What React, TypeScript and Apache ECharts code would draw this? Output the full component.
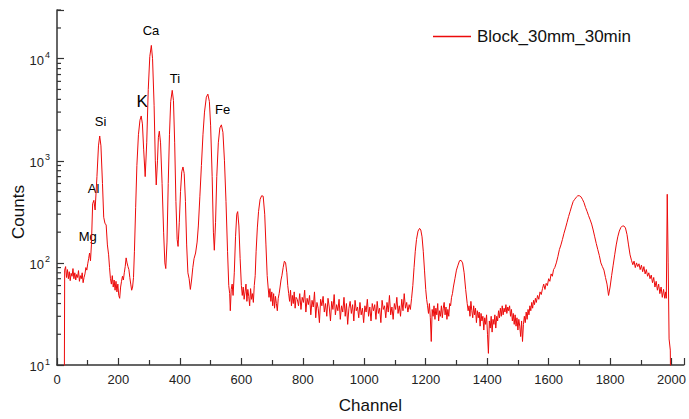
import React, { useEffect, useRef } from "react";
import * as echarts from "echarts";

const seriesName = "Block_30mm_30min";

// [channel, counts]
const spectrumLow: number[][] = [
  [23, 1], [25, 85], [28, 92], [31, 72], [34, 86], [37, 70], [40, 82], [43, 67], [46, 79], [49, 74],
  [52, 88], [55, 70], [58, 80], [61, 68], [64, 77], [67, 72], [70, 84], [73, 66], [76, 75], [79, 70],
  [82, 80], [85, 64], [88, 72], [91, 78], [94, 90], [97, 85], [100, 98], [103, 110], [106, 125], [109, 105],
  [112, 150], [116, 380], [120, 410], [124, 330], [130, 700], [135, 1400], [139, 1750], [143, 1400], [148, 600], [152, 280],
  [156, 245], [160, 235], [164, 150], [168, 120], [171, 90], [174, 70], [177, 62], [180, 75], [183, 58], [186, 68],
  [189, 54], [192, 66], [195, 52], [198, 62], [201, 48], [204, 45], [207, 58], [210, 66], [213, 74], [216, 68],
  [219, 80], [222, 92], [225, 112], [228, 100], [231, 92], [234, 86], [237, 72], [240, 62], [243, 54], [246, 58],
  [249, 72], [252, 130], [256, 350], [260, 900], [265, 1800], [270, 2500], [274, 2750], [278, 2300], [282, 1300], [287, 700],
  [292, 1500], [297, 5000], [302, 10500], [307, 13500], [311, 10000], [316, 3500], [320, 1000], [323, 580], [327, 1000], [330, 1700],
  [333, 1950], [337, 1500], [342, 600], [347, 200], [351, 100], [354, 88], [358, 160], [362, 600], [366, 1800], [370, 3800],
  [375, 4900], [379, 3900], [383, 1500], [387, 400], [391, 170], [394, 145], [398, 250], [402, 500], [406, 780], [410, 870],
  [414, 750], [418, 400], [422, 150], [426, 80], [430, 70], [434, 55], [438, 68], [442, 90], [446, 110], [451, 125],
  [456, 160], [460, 230], [465, 450], [470, 900], [475, 1800], [480, 3000], [486, 4200], [491, 4500], [496, 3800], [500, 2200],
  [505, 700], [509, 200], [512, 133], [516, 250], [520, 700], [525, 1500], [530, 2100], [535, 2250], [540, 1900], [545, 1000],
  [550, 400], [555, 130], [559, 60], [562, 50], [564, 34], [567, 55], [570, 62], [573, 48], [577, 80], [581, 180],
  [585, 300], [588, 318], [592, 230], [596, 110], [600, 60], [603, 48], [606, 58], [609, 44], [612, 52], [615, 62],
  [618, 42], [621, 55], [624, 47], [627, 38], [630, 56], [633, 44], [636, 50], [639, 41], [642, 60], [645, 75],
  [648, 130], [652, 220], [656, 320], [661, 420], [666, 455], [671, 450], [676, 300], [680, 150], [684, 75], [687, 58],
  [690, 46], [693, 56], [696, 42], [699, 52], [702, 38], [705, 50], [708, 36], [711, 47], [714, 40], [717, 34],
  [720, 45], [723, 50], [726, 58], [729, 68], [732, 75], [736, 90], [740, 104], [744, 100], [748, 80], [751, 60],
  [754, 50], [757, 42], [760, 54], [763, 38], [766, 48], [769, 40], [772, 52], [775, 36], [778, 46],
];

const spectrumMid: number[][] = [
  [782, 44], [786, 38], [790, 50], [794, 35], [798, 46], [802, 41], [806, 54], [810, 33], [814, 45], [818, 39],
  [822, 48], [826, 31], [830, 43], [834, 37], [838, 52], [842, 29], [846, 41], [850, 36], [854, 26], [858, 44],
  [862, 38], [866, 47], [870, 33], [874, 40], [878, 30], [882, 45], [886, 37], [890, 27], [894, 42], [898, 35],
  [902, 49], [906, 31], [910, 39], [914, 34], [918, 44], [922, 28], [926, 38], [930, 33], [934, 46], [938, 30],
  [942, 40], [946, 25], [950, 36], [954, 42], [958, 32], [962, 39], [966, 27], [970, 43], [974, 34], [978, 37],
  [982, 29], [986, 41], [990, 31], [994, 36], [998, 26], [1002, 38], [1006, 33], [1010, 44], [1014, 30], [1018, 37],
  [1022, 27], [1026, 40], [1030, 34], [1034, 39], [1038, 28], [1042, 42], [1046, 32], [1050, 36], [1054, 26], [1058, 43],
  [1062, 35], [1066, 38], [1070, 29], [1074, 41], [1078, 33], [1082, 48], [1086, 31], [1090, 37], [1094, 28], [1098, 40],
  [1102, 35], [1106, 46], [1110, 32], [1114, 38], [1118, 30], [1122, 44], [1126, 34], [1130, 50], [1134, 36], [1138, 41],
  [1142, 33], [1146, 39], [1150, 35], [1154, 45], [1158, 60], [1162, 90], [1166, 130], [1170, 170], [1175, 205], [1180, 218],
  [1184, 210], [1188, 180], [1192, 130], [1196, 85], [1200, 55], [1203, 44], [1206, 38], [1209, 32], [1212, 40], [1215, 29],
  [1218, 17], [1221, 35], [1224, 30], [1227, 38], [1230, 28], [1233, 36], [1236, 31], [1239, 40], [1242, 27], [1245, 34],
  [1248, 30], [1251, 38], [1254, 29], [1257, 36], [1260, 41], [1263, 31], [1266, 37], [1269, 28], [1272, 35], [1275, 30],
  [1278, 40], [1281, 38], [1284, 46], [1287, 50], [1290, 58], [1295, 70], [1300, 85], [1305, 95], [1310, 105], [1315, 106],
  [1320, 100], [1325, 80], [1330, 55], [1335, 40], [1338, 34], [1341, 38], [1344, 30], [1347, 42], [1350, 34], [1353, 29],
  [1356, 38], [1359, 31], [1362, 36], [1365, 26], [1368, 34], [1371, 29], [1374, 33], [1377, 24], [1380, 32], [1383, 27],
  [1386, 30], [1389, 22], [1392, 29], [1395, 25], [1398, 31], [1401, 20], [1404, 13], [1407, 27], [1410, 23], [1413, 30],
  [1416, 21], [1419, 28], [1422, 25], [1425, 31], [1428, 23], [1431, 30], [1434, 27], [1437, 34], [1440, 29], [1443, 36],
  [1446, 30], [1449, 38], [1452, 31], [1455, 36], [1458, 33], [1461, 39], [1464, 32], [1467, 37], [1470, 34], [1473, 38],
  [1476, 30], [1479, 35], [1482, 27], [1485, 32], [1488, 25], [1491, 31], [1494, 24], [1497, 29], [1500, 22], [1503, 28],
  [1506, 24], [1509, 19], [1512, 27], [1515, 17], [1518, 25], [1521, 30], [1524, 26], [1527, 33], [1530, 28], [1533, 35],
  [1536, 31], [1539, 38], [1542, 34], [1545, 41], [1548, 36], [1551, 43], [1554, 39], [1557, 45], [1560, 41],
];

const spectrumHigh: number[][] = [
  [1564, 48], [1568, 44], [1572, 52], [1576, 49], [1580, 56], [1584, 62], [1588, 55], [1592, 63], [1596, 60], [1600, 70],
  [1604, 66], [1608, 78], [1612, 74], [1616, 86], [1620, 90], [1625, 100], [1630, 115], [1635, 135], [1640, 150], [1645, 170],
  [1650, 195], [1655, 220], [1660, 250], [1665, 285], [1670, 320], [1675, 360], [1680, 400], [1685, 420], [1690, 440], [1695, 455],
  [1700, 455], [1705, 445], [1710, 420], [1715, 390], [1720, 350], [1725, 320], [1730, 290], [1735, 265], [1740, 240], [1745, 210],
  [1750, 180], [1755, 155], [1760, 135], [1765, 118], [1770, 100], [1775, 92], [1780, 85], [1785, 72], [1790, 62], [1795, 48],
  [1800, 58], [1805, 75], [1810, 95], [1815, 120], [1820, 150], [1825, 180], [1830, 205], [1835, 222], [1840, 230], [1845, 230],
  [1850, 220], [1855, 190], [1860, 150], [1865, 120], [1870, 105], [1874, 96], [1878, 104], [1882, 90], [1886, 100], [1890, 92],
  [1894, 98], [1898, 86], [1902, 95], [1906, 82], [1910, 92], [1914, 78], [1918, 86], [1922, 74], [1926, 80], [1930, 70],
  [1934, 76], [1938, 64], [1942, 72], [1946, 58], [1950, 66], [1954, 54], [1958, 62], [1962, 50], [1966, 58], [1970, 46],
  [1974, 55], [1978, 45], [1981, 52], [1983, 45], [1986, 470], [1989, 100], [1992, 18], [1996, 14], [1999, 1],
];

const peakNames = ["Ca", "Ti", "K", "Si", "Fe", "Al", "Mg"];
const peakLabelChannels = [306, 384, 277, 142, 539, 119, 100];
const peakLabelCounts = [19000, 6460, 3770, 2400, 3160, 534, 181];

const xTickValues = [0, 200, 400, 600, 800, 1000, 1200, 1400, 1600, 1800, 2000];
const yDecades = [10, 100, 1000, 10000];

const FONT = "'Liberation Sans', Arial, sans-serif";
const LINE_COLOR = "#ec0a0a";

export default function App() {
  const ref = useRef<HTMLDivElement>(null);
  useEffect(() => {
    if (!ref.current) return;
    const chart = echarts.init(ref.current, undefined, { renderer: "svg" });
    const spectrum = [...spectrumLow, ...spectrumMid, ...spectrumHigh];
    const minorY: number[][] = [];
    yDecades.forEach((d) => {
      for (let m = 2; m <= 9; m++) {
        if (d * m <= 30000) minorY.push([0, d * m]);
      }
    });
    const labels = peakNames.map((n, i) => ({
      name: n,
      value: [peakLabelChannels[i], peakLabelCounts[i]],
      label: n === "K" ? { fontSize: 17 } : undefined,
    }));
    chart.setOption({
      animation: false,
      textStyle: { fontFamily: FONT },
      grid: { left: 57, right: 0, top: 10, bottom: 52, containLabel: false },
      legend: {
        left: 433,
        top: 28,
        padding: 0,
        itemWidth: 38,
        itemHeight: 1.5,
        icon: "rect",
        itemGap: 6,
        data: [{ name: seriesName }],
        textStyle: { fontSize: 17, color: "#111", fontFamily: FONT, padding: [0, 0, 0, 1] },
      },
      xAxis: {
        type: "value",
        min: 0,
        max: 2040,
        interval: 200,
        name: "Channel",
        nameLocation: "middle",
        nameGap: 32,
        nameTextStyle: { fontSize: 17, color: "#111", fontFamily: FONT },
        axisLine: { lineStyle: { color: "#333", width: 1.5 } },
        axisTick: { inside: true, length: 7, lineStyle: { color: "#333", width: 1.2 } },
        minorTick: { show: true, splitNumber: 2, length: 5, lineStyle: { color: "#333", width: 1.2 } },
        splitLine: { show: false },
        axisLabel: {
          fontSize: 13,
          color: "#222",
          margin: 8,
          fontFamily: FONT,
          formatter: (v: number) => (xTickValues.includes(v) ? String(v) : ""),
        },
      },
      yAxis: {
        type: "log",
        logBase: 10,
        min: 10,
        max: 30000,
        axisLine: { show: true, lineStyle: { color: "#333", width: 1.5 } },
        axisTick: { inside: true, length: 7, lineStyle: { color: "#333", width: 1.2 } },
        splitLine: { show: false },
        axisLabel: {
          margin: 7,
          fontFamily: FONT,
          formatter: (v: number) => {
            const e = Math.round(Math.log10(v));
            if (Math.abs(Math.log10(v) - e) > 1e-6) return "";
            return `{b|10}{s|${e}}`;
          },
          rich: {
            b: { fontSize: 13, color: "#222", fontFamily: FONT, lineHeight: 16, verticalAlign: "bottom" },
            s: { fontSize: 9, color: "#222", fontFamily: FONT, lineHeight: 16, verticalAlign: "top", padding: [0, 0, 6, 1] },
          },
        },
      },
      graphic: [
        {
          type: "text",
          x: 18,
          y: 212,
          rotation: Math.PI / 2,
          style: {
            text: "Counts",
            fontSize: 17,
            fill: "#111",
            fontFamily: FONT,
            align: "center",
            verticalAlign: "middle",
          },
        },
      ],
      series: [
        {
          name: seriesName,
          type: "line",
          data: spectrum,
          symbol: "none",
          showSymbol: false,
          clip: true,
          lineStyle: { color: LINE_COLOR, width: 1 },
          itemStyle: { color: LINE_COLOR },
        },
        {
          name: "peaks",
          type: "scatter",
          data: labels,
          symbolSize: 1,
          itemStyle: { color: "rgba(0,0,0,0)" },
          silent: true,
          label: {
            show: true,
            position: "inside",
            formatter: "{b}",
            fontSize: 13,
            color: "#000",
            opacity: 1,
            textBorderWidth: 0,
            fontFamily: FONT,
          },
        },
        {
          name: "minorY",
          type: "custom",
          silent: true,
          data: minorY,
          renderItem: (params: any, api: any) => {
            const p = api.coord([api.value(0), api.value(1)]);
            return {
              type: "line",
              shape: { x1: p[0], y1: p[1], x2: p[0] + 4, y2: p[1] },
              style: { stroke: "#333", lineWidth: 1.2 },
            };
          },
        },
      ],
    });
    return () => chart.dispose();
  }, []);
  return (
    <div
      ref={ref}
      style={{ position: "fixed", left: 0, top: 0, width: 689, height: 419, background: "#fff" }}
    />
  );
}
